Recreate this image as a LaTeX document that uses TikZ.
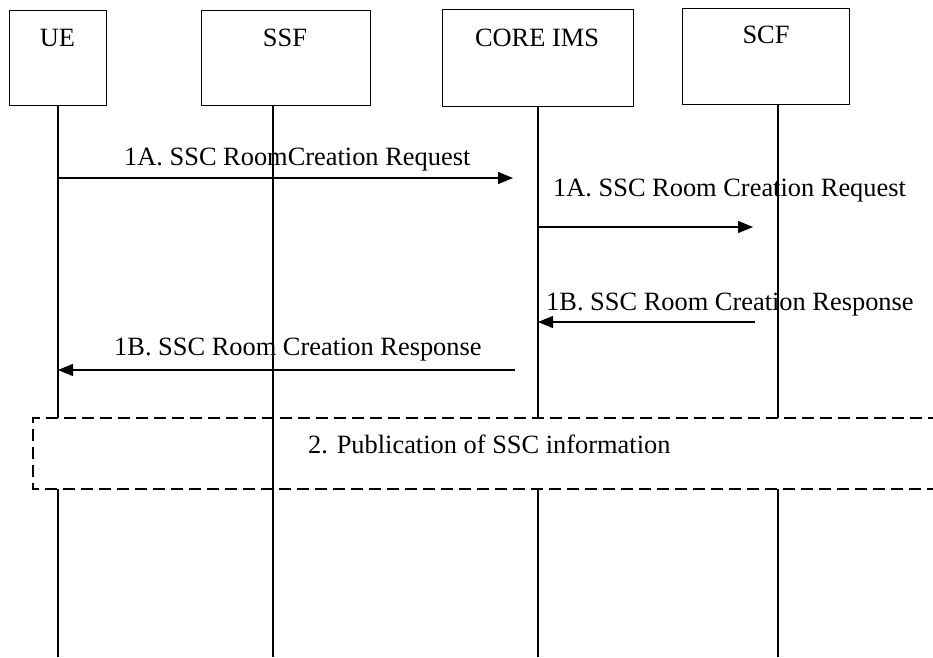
\documentclass[tikz,border=0pt]{standalone}
\usepackage{fontspec}
\setmainfont{Liberation Serif}
\usetikzlibrary{arrows.meta}
\begin{document}
\begin{tikzpicture}[x=1pt,y=-1pt,
  txt/.style={font=\fontsize{26.4}{30}\selectfont, inner sep=0pt},
  lbl/.style={txt, anchor=base west},
  actor/.style={draw, line width=1.4pt, anchor=north west, inner sep=0pt},
  life/.style={line width=1.3pt},
  msg/.style={line width=1.3pt, -{Triangle[length=15pt,width=12pt]}},
  grp/.style={line width=1.3pt, dash pattern=on 12pt off 6pt}]
\useasboundingbox (0,0) rectangle (933,657);
% actor boxes
\node[actor, minimum width=97pt, minimum height=95pt] (ue) at (9,10) {};
\node[actor, minimum width=169pt, minimum height=95pt] (ssf) at (201,10) {};
\node[actor, minimum width=191pt, minimum height=97pt] (core) at (442,9) {};
\node[actor, minimum width=167pt, minimum height=96pt] (scf) at (682,8) {};
\node[txt] (uet) at (57.5,38) {UE};
\node[txt] (ssft) at (285,38) {SSF};
\node[txt] (coret) at (537,38) {CORE IMS};
\node[txt] (scft) at (766,35) {SCF};
% lifeline coordinates
\coordinate (ue0) at (58,105);   \coordinate (ue1) at (58,418);
\coordinate (ue2) at (58,489);   \coordinate (ue3) at (58,657);
\coordinate (ssf0) at (273,105); \coordinate (ssf3) at (273,657);
\coordinate (core0) at (538,106); \coordinate (core1) at (538,418);
\coordinate (core2) at (538,489); \coordinate (core3) at (538,657);
\coordinate (scf0) at (778,104); \coordinate (scf1) at (778,418);
\coordinate (scf2) at (778,489); \coordinate (scf3) at (778,657);
\draw[life] (ue0) -- (ue1) (ue2) -- (ue3);
\draw[life] (ssf0) -- (ssf3);
\draw[life] (core0) -- (core1) (core2) -- (core3);
\draw[life] (scf0) -- (scf1) (scf2) -- (scf3);
% messages
\coordinate (a1s) at (58,178);  \coordinate (a1e) at (513,178);
\coordinate (a2s) at (538,227); \coordinate (a2e) at (753,227);
\coordinate (a3s) at (755,322); \coordinate (a3e) at (538,322);
\coordinate (a4s) at (515,370); \coordinate (a4e) at (58,370);
\draw[msg] (a1s) -- (a1e);
\draw[msg] (a2s) -- (a2e);
\draw[msg] (a3s) -- (a3e);
\draw[msg] (a4s) -- (a4e);
\node[lbl] (m1) at (124,165) {1A. SSC RoomCreation Request};
\node[lbl] (m2) at (553,196) {1A. SSC Room Creation Request};
\node[lbl] (m3) at (546,310) {1B. SSC Room Creation Response};
\node[lbl] (m4) at (114,355) {1B. SSC Room Creation Response};
% publication group
\coordinate (g1) at (940,418); \coordinate (g2) at (33,418);
\coordinate (g3) at (33,489);  \coordinate (g4) at (940,489);
\draw[grp] (g1) -- (g2) -- (g3) -- (g4);
\node[lbl] (pub) at (308,453) {2. Publication of SSC information};
\end{tikzpicture}
\end{document}
